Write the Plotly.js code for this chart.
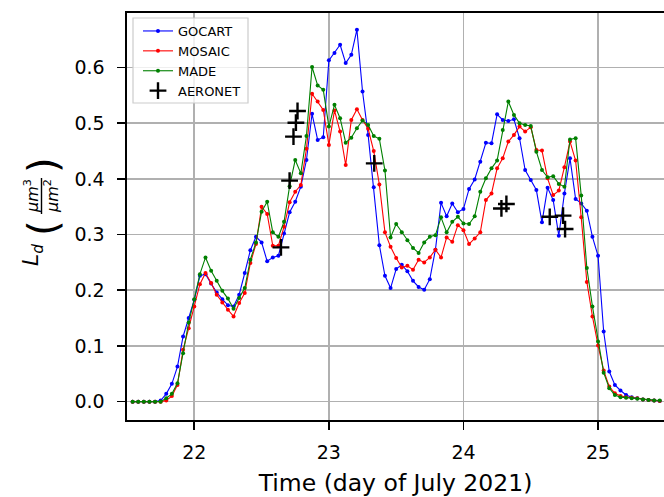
<!DOCTYPE html>
<html><head><meta charset="utf-8">
<script src="https://cdn.plot.ly/plotly-3.0.1.min.js"></script>
<style>html,body{margin:0;padding:0;overflow:hidden;background:#fff}</style>
</head><body><div id="chart" style="width:664px;height:497px"></div>
<script>
// Hourly model output starting 21 July 2021, 13:00
const startDay = 21, startHour = 13;
const gocart = [0,0,0,0,0,0.002,0.014,0.032,0.063,0.117,0.150,0.183,0.226,0.229,0.212,0.196,0.184,0.173,0.171,0.192,
  0.231,0.272,0.296,0.286,0.252,0.259,0.262,0.302,0.340,0.359,0.386,0.434,0.517,0.470,0.475,0.613,0.626,0.641,0.608,0.623,
  0.668,0.557,0.479,0.385,0.281,0.226,0.204,0.238,0.246,0.234,0.217,0.206,0.201,0.220,0.273,0.357,0.333,0.356,0.340,0.346,
  0.382,0.399,0.431,0.465,0.464,0.516,0.506,0.504,0.507,0.473,0.416,0.398,0.380,0.322,0.384,0.362,0.298,0.374,0.437,0.364,
  0.356,0.343,0.296,0.262,0.126,0.054,0.030,0.020,0.012,0.008,0.006,0.004,0.003,0.002,0.001];
const mosaic = [0,0,0,0,0,0,0.002,0.010,0.030,0.093,0.132,0.171,0.211,0.231,0.213,0.192,0.178,0.165,0.153,0.177,
  0.195,0.249,0.283,0.350,0.337,0.280,0.280,0.314,0.358,0.377,0.389,0.454,0.553,0.539,0.524,0.461,0.523,0.485,0.425,0.506,
  0.525,0.506,0.490,0.450,0.390,0.304,0.278,0.258,0.241,0.244,0.237,0.255,0.250,0.259,0.273,0.259,0.295,0.287,0.317,0.308,
  0.283,0.293,0.304,0.362,0.374,0.419,0.437,0.467,0.479,0.494,0.485,0.493,0.452,0.451,0.401,0.371,0.379,0.421,0.467,0.433,
  0.331,0.215,0.153,0.101,0.056,0.027,0.015,0.010,0.008,0.007,0.006,0.004,0.003,0.002,0.001];
const made = [0,0,0,0,0,0,0.006,0.014,0.033,0.087,0.142,0.184,0.229,0.259,0.235,0.217,0.199,0.185,0.167,0.186,
  0.204,0.255,0.286,0.341,0.359,0.304,0.296,0.323,0.387,0.434,0.410,0.477,0.601,0.568,0.560,0.494,0.533,0.509,0.465,0.474,
  0.491,0.505,0.497,0.477,0.472,0.415,0.295,0.319,0.304,0.290,0.276,0.267,0.286,0.296,0.299,0.331,0.304,0.323,0.332,0.320,
  0.319,0.333,0.377,0.401,0.419,0.433,0.488,0.539,0.515,0.500,0.497,0.495,0.449,0.416,0.403,0.405,0.391,0.386,0.471,0.473,
  0.370,0.240,0.171,0.108,0.052,0.024,0.012,0.008,0.007,0.006,0.005,0.004,0.003,0.002,0.002];
const aeronetTime  = [22.644,22.708,22.737,22.755,22.767,23.337,24.282,24.319,24.641,24.740,24.755];
const aeronetValue = [0.277,0.397,0.476,0.501,0.522,0.428,0.347,0.355,0.332,0.334,0.310];
const xTicks = [22,23,24,25];
const yTicks = [0.0,0.1,0.2,0.3,0.4,0.5,0.6];
const seriesNames = ['GOCART','MOSAIC','MADE','AERONET'];

const time = gocart.map((_, i) => startDay + (startHour + i) / 24);

const W = 664, H = 497, ML = 127, MR = 0, MT = 13, MB = 77;
const pw = W - ML - MR, ph = H - MT - MB;
const pxX = x => (x - ML) / pw;
const pxY = y => (H - MB - y) / ph;
const FONT = 'DejaVu Sans, sans-serif';

function modelTrace(name, y, color) {
  return {x: time, y: y, name: name, type: 'scatter', mode: 'lines+markers',
    line: {color: color, width: 1.1}, marker: {color: color, size: 4}};
}
const traces = [
  modelTrace(seriesNames[0], gocart, '#0000ff'),
  modelTrace(seriesNames[1], mosaic, '#ff0000'),
  modelTrace(seriesNames[2], made, '#008000'),
  {x: aeronetTime, y: aeronetValue, name: seriesNames[3], type: 'scatter', mode: 'markers',
   marker: {symbol: 'cross-thin', size: 12, color: '#000', line: {color: '#000', width: 2.4}}}
];

const rot = (text, x, y, size) => ({text: text, x: pxX(x), y: pxY(y), xref: 'paper', yref: 'paper',
  showarrow: false, textangle: -90, xanchor: 'center', yanchor: 'middle', font: {family: FONT, size: size, color: '#000'}});

const layout = {
  width: W, height: H,
  margin: {l: ML, r: MR, t: MT, b: MB, pad: 0},
  paper_bgcolor: '#fff', plot_bgcolor: '#fff',
  font: {family: FONT, color: '#000'},
  showlegend: true,
  legend: {x: pxX(138), y: pxY(16), xanchor: 'left', yanchor: 'top',
    bgcolor: 'rgba(0,0,0,0)', borderwidth: 0,
    font: {family: FONT, size: 13, color: '#000'}, tracegroupgap: 0},
  xaxis: {range: [21.5, 25.49], tickvals: xTicks, ticktext: xTicks.map(String),
    showgrid: true, gridcolor: '#b0b0b0', gridwidth: 1.6, zeroline: false,
    showline: true, linecolor: '#000', linewidth: 1.6, mirror: true,
    ticks: 'outside', ticklen: 8, tickwidth: 1.6, tickcolor: '#000', ticklabelstandoff: 7,
    tickfont: {family: FONT, size: 19, color: '#000'},
    title: {text: 'Time (day of July 2021)', font: {family: FONT, size: 23.5, color: '#000'}, standoff: 14}},
  yaxis: {range: [-0.033, 0.698], tickvals: yTicks, ticktext: yTicks.map(v => v.toFixed(1)),
    showgrid: true, gridcolor: '#b0b0b0', gridwidth: 1.6, zeroline: false,
    showline: true, linecolor: '#000', linewidth: 1.6, mirror: false,
    ticks: 'outside', ticklen: 8, tickwidth: 1.6, tickcolor: '#000', ticklabelstandoff: 9,
    tickfont: {family: FONT, size: 19, color: '#000'}},
  annotations: [
    rot('<i>L</i><sub><i>d</i></sub>', 33, 255, 22),
    rot('(', 43, 228, 40),
    rot('<i>µm</i><sup>3</sup>', 31, 196, 16),
    rot('<i>µm</i><sup>2</sup>', 51, 196, 16),
    rot(')', 43, 165, 40)
  ],
  shapes: [
    {type: 'rect', xref: 'paper', yref: 'paper', x0: pxX(133), x1: pxX(248), y0: pxY(103), y1: pxY(18),
     fillcolor: 'rgba(255,255,255,0.8)', line: {color: '#cccccc', width: 1.2}, layer: 'above'},
    {type: 'line', xref: 'paper', yref: 'paper', x0: pxX(41.5), x1: pxX(41.5), y0: pxY(214), y1: pxY(178),
     line: {color: '#000', width: 1.4}}
  ]
};

Plotly.newPlot('chart', traces, layout, {displayModeBar: false, staticPlot: true});
</script></body></html>
